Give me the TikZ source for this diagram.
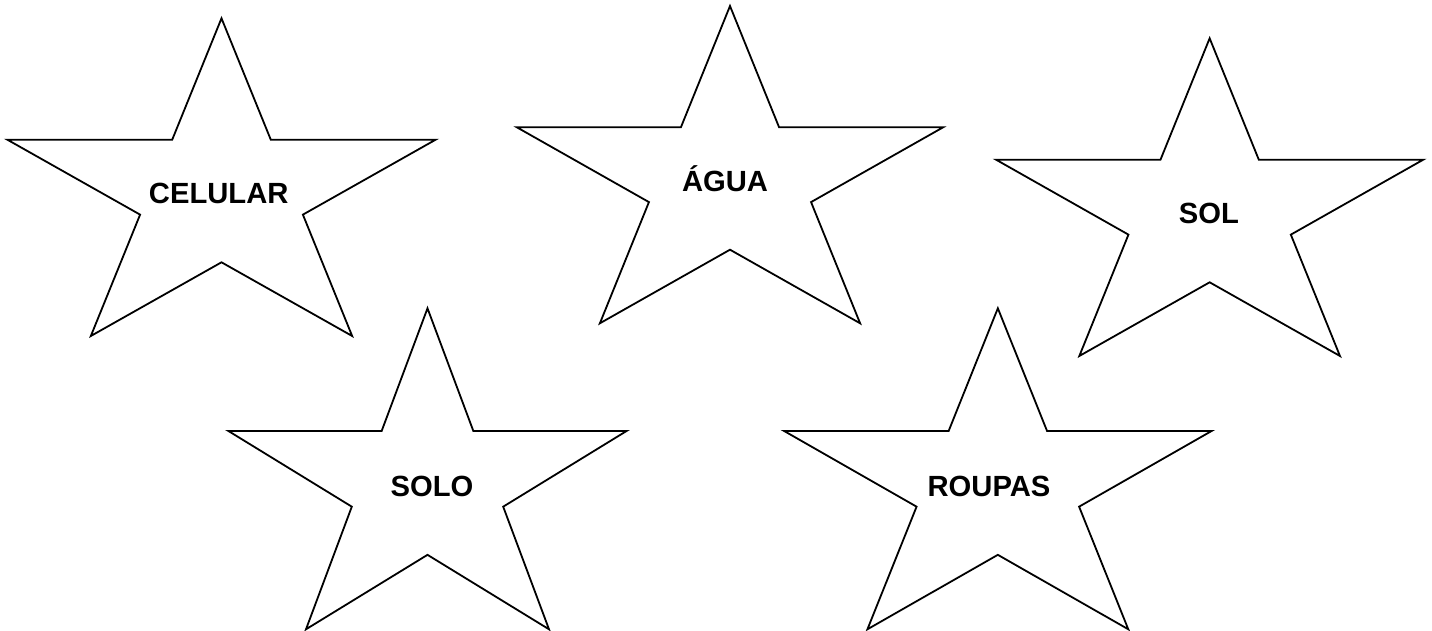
\documentclass[tikz,border=0pt]{standalone}
\usepackage{fontspec}
\setmainfont{Liberation Sans}
\begin{document}
\begin{tikzpicture}[x=0.5pt,y=-0.5pt,
    starline/.style={draw=black,line width=0.9pt,line join=miter},
    starlabel/.style={font=\fontsize{14.6}{16}\selectfont\bfseries,anchor=base,inner sep=0pt},
    pics/wordstar/.style n args={2}{code={
        \draw[starline] (0.5*#1,0) -- (0.615*#1,0.382*#2) -- (#1,0.382*#2) -- (0.69*#1,0.618*#2)
            -- (0.805*#1,#2) -- (0.5*#1,0.768*#2) -- (0.195*#1,#2) -- (0.31*#1,0.618*#2)
            -- (0,0.382*#2) -- (0.385*#1,0.382*#2) -- cycle;
    }}
]
\useasboundingbox (0,0) rectangle (1432,631);

% Top row
\pic at (7.3,18.3) {wordstar={428.4}{317.7}};
\node[starlabel] (celular) at (218.7,204) {CELULAR};

\pic at (516.7,6) {wordstar={426.6}{317.3}};
\node[starlabel] (agua) at (725,192) {ÁGUA};

\pic at (996,38.3) {wordstar={427.3}{317.7}};
\node[starlabel] (sol) at (1209,224) {SOL};

% Bottom row
\pic at (228.3,308.3) {wordstar={398.4}{321}};
\node[starlabel] (solo) at (432,496) {SOLO};

\pic at (784,308.3) {wordstar={427.7}{321}};
\node[starlabel] (roupas) at (989,496.7) {ROUPAS};

\end{tikzpicture}
\end{document}
